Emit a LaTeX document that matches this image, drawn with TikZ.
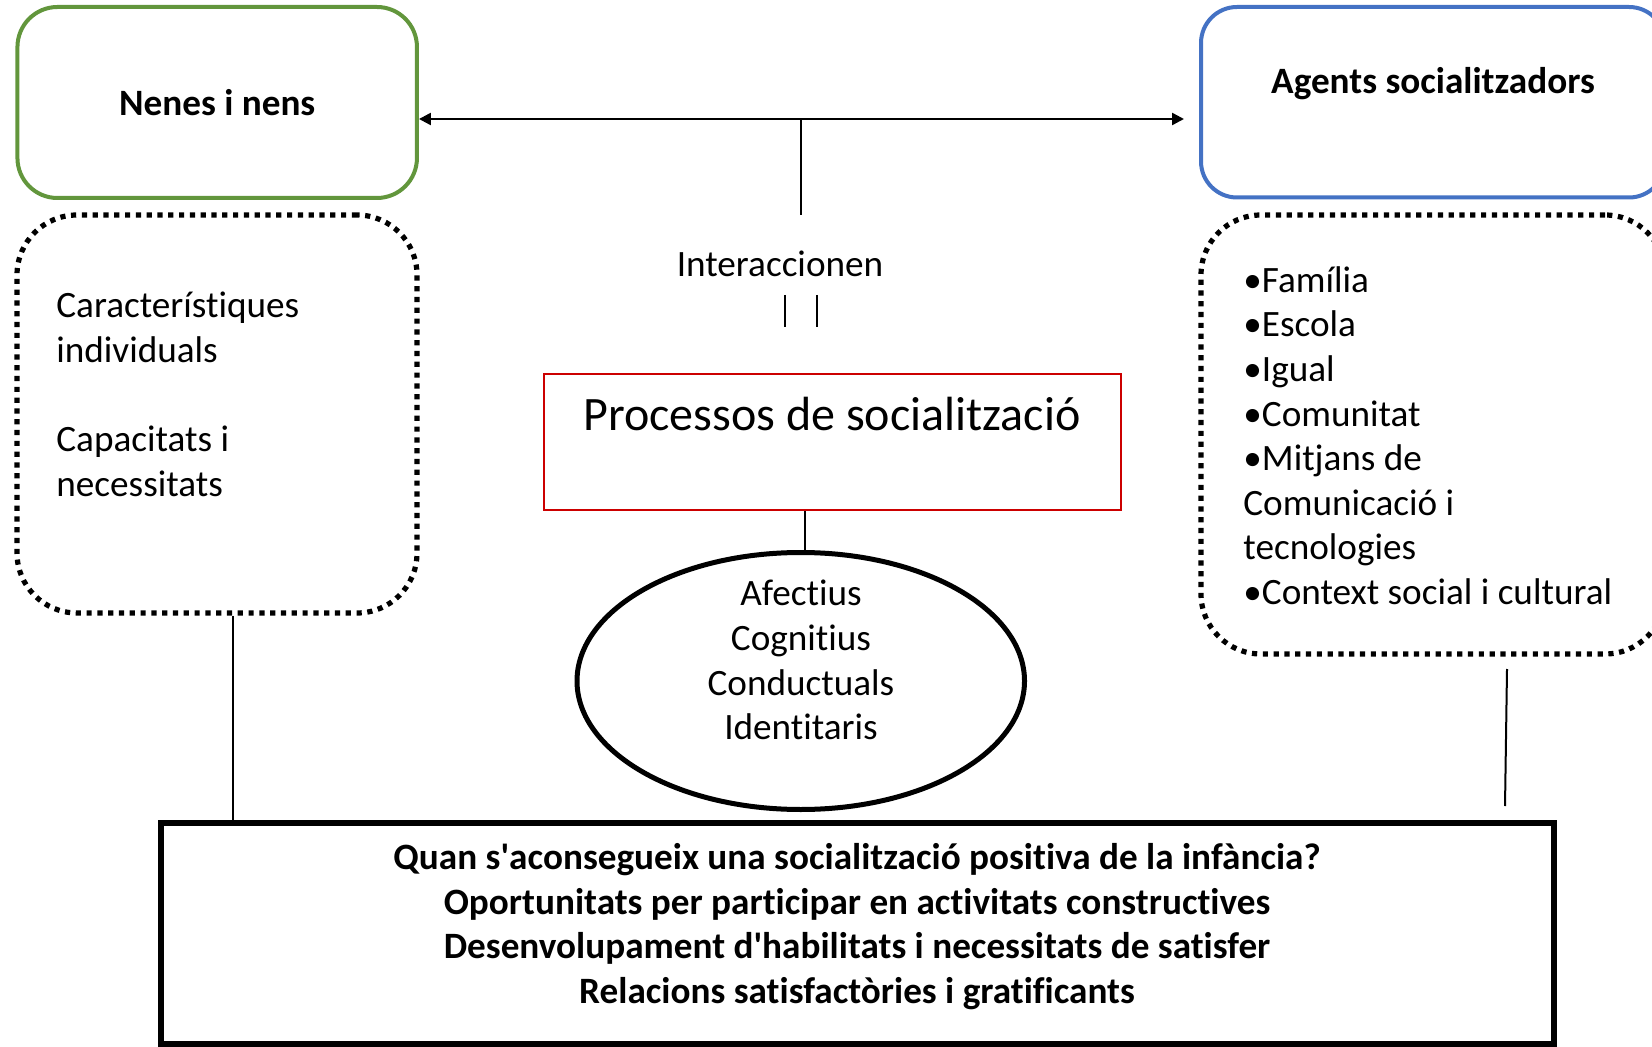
\documentclass[tikz,border=0pt]{standalone}
\usepackage{fontspec}
\setmainfont{Carlito}[Ligatures=NoCommon]
\usetikzlibrary{arrows.meta, shapes.geometric}
\definecolor{kidgreen}{RGB}{98,150,60}
\definecolor{agentblue}{RGB}{68,114,196}
\definecolor{procred}{RGB}{204,0,0}

\begin{document}
\begin{tikzpicture}[x=0.5pt, y=-0.5pt,
    body/.style={font=\fontsize{18.6}{22.3}\selectfont, inner sep=0pt},
    heavy/.style={font=\fontsize{18.6}{22.3}\selectfont\bfseries, inner sep=0pt},
    roundbox/.style={draw, rounded corners=20pt, line width=2pt, inner sep=0pt},
    dotbox/.style={draw, rounded corners=30pt, line width=2.6pt, dash pattern=on 2.6pt off 2.8pt, inner sep=0pt},
    firstline/.style={execute at begin node=\strut},
    link/.style={line width=1pt},
    biarrow/.style={line width=1.2pt, {Triangle[length=6pt, width=6pt]}-{Triangle[length=6pt, width=6pt]}}]
    \useasboundingbox (0,0) rectangle (1652,1047);
    % Top boxes
    \node[roundbox, draw=kidgreen, minimum width=199.75pt, minimum height=95.5pt,
          font=\fontsize{18.6}{22.3}\selectfont\bfseries] (kids) at (217.2,102.5) {Nenes i nens};
    \node[roundbox, draw=agentblue, rounded corners=18pt, minimum width=232pt, minimum height=95.25pt] (agents) at (1433,102.25) {};
    \node[heavy, anchor=base] (agentstxt) at (1433,94) {Agents socialitzadors};
    % Interaction arrow
    \coordinate (arrR) at (1184,119);
    \coordinate (stemtop) at (801,119);
    \coordinate (stembot) at (801,215);
    \draw[biarrow] (kids.east |- arrR) -- (arrR);
    \draw[link] (stemtop) -- (stembot);
    \node[body, anchor=base] (interact) at (780,277) {Interaccionen};
    \coordinate (tickA) at (785,295);
    \coordinate (tickB) at (817,295);
    \draw[line width=0.7pt] (tickA) -- ++(0,32);
    \draw[line width=0.7pt] (tickB) -- ++(0,32);
    % Dotted boxes
    \node[dotbox, minimum width=200pt, minimum height=199pt] (feat) at (217,414) {};
    \node[body, firstline, anchor=north west, align=left] (feattxt) at (56,292)
        {Característiques\\individuals\\[22.3pt]Capacitats i\\necessitats};
    \node[dotbox, minimum width=232pt, minimum height=219.5pt] (agentlist) at (1433,434.5) {};
    \node[body, firstline, anchor=north west, align=left] (listtxt) at (1243,266)
        {•Família\\•Escola\\•Igual\\•Comunitat\\•Mitjans de\\Comunicació i\\tecnologies\\•Context social i cultural};
    % Processes
    \node[draw=procred, line width=1pt, minimum width=288.5pt, minimum height=68pt] (proc) at (832.5,442) {};
    \node[anchor=base, font=\fontsize{24}{29}\selectfont, inner sep=0pt] (proctxt) at (832,430) {Processos de socialització};
    \node[draw, ellipse, line width=2.5pt, minimum width=223.75pt, minimum height=128.5pt, inner sep=0pt] (emo) at (800.75,681) {};
    \node[body, firstline, anchor=north, align=center] (emotxt) at (801,580)
        {Afectius\\Cognitius\\Conductuals\\Identitaris};
    \coordinate (drop) at (805,0);
    \draw[link] (proc.south -| drop) -- (emo.north -| drop);
    % Bottom box
    \node[draw, line width=3pt, minimum width=696.5pt, minimum height=110.5pt] (quan) at (857.5,933.5) {};
    \node[heavy, firstline, anchor=north, align=center] (quantxt) at (857,843)
        {Quan s\textquotesingle aconsegueix una socialització positiva de la infància?\\
         Oportunitats per participar en activitats constructives\\
         Desenvolupament d\textquotesingle habilitats i necessitats de satisfer\\
         Relacions satisfactòries i gratificants};
    % Links down
    \coordinate (lx) at (233,0);
    \coordinate (rtop) at (1507,669);
    \coordinate (rbot) at (1505,806);
    \draw[link] (feat.south -| lx) -- (quan.north -| lx);
    \draw[link] (rtop) -- (rbot);
\end{tikzpicture}
\end{document}
